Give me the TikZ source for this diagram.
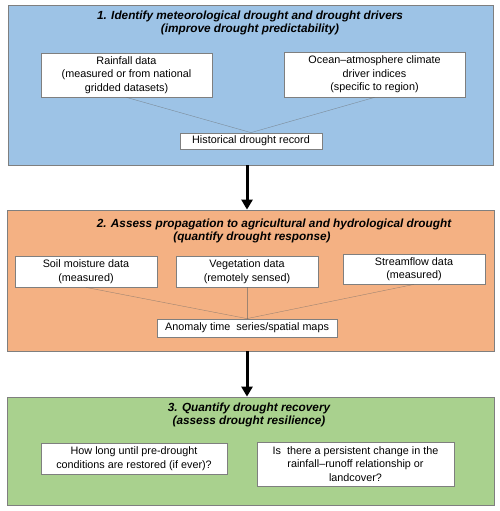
\documentclass[tikz,border=0pt]{standalone}
\usepackage{fontspec}
\setmainfont{Liberation Sans}
\usetikzlibrary{arrows.meta}
\definecolor{bluebg}{HTML}{9DC3E6}
\definecolor{orangebg}{HTML}{F4B183}
\definecolor{greenbg}{HTML}{A9D18E}
\definecolor{edgegray}{HTML}{7F7F7F}
\tikzset{
  panel/.style={draw=edgegray, line width=0.8pt, inner sep=0pt},
  item/.style={draw=edgegray, fill=white, line width=0.8pt, inner sep=0pt, align=center,
    font=\fontsize{10.8}{13.5}\selectfont},
  title/.style={inner sep=0pt, align=center, font=\fontsize{11.8}{13.5}\selectfont\bfseries\itshape},
  link/.style={draw=black!60, line width=0.4pt, opacity=0.6},
  flow/.style={line width=3pt, -{Triangle[width=11pt,length=10pt]}}
}
\begin{document}
\begin{tikzpicture}[x=1pt,y=-1pt]
\useasboundingbox (0,0) rectangle (500,511);
% panel 1
\node[panel, fill=bluebg, minimum width=485pt, minimum height=160pt] (p1) at (250.5,85) {};
\node[title] (t1) at (250,23) {1. Identify meteorological drought and drought drivers\\(improve drought predictability)};
\node[item, minimum width=171pt, minimum height=44pt] (rain) at (126.5,75) {Rainfall data\\(measured or from national\\gridded datasets)};
\node[item, minimum width=181pt, minimum height=45pt] (ocean) at (374.5,74.5) {Ocean–atmosphere climate\\driver indices\\(specific to region)};
\node[item, minimum width=142pt, minimum height=16pt] (hist) at (251,141) {Historical drought record};
\draw[link] (rain.south) -- (hist.north);
\draw[link] (ocean.south) -- (hist.north);
% panel 2
\node[panel, fill=orangebg, minimum width=487pt, minimum height=141pt] (p2) at (250.5,280.5) {};
\node[title] (t2a) at (274,224) {2. Assess propagation to agricultural and hydrological drought};
\node[title] (t2b) at (252,237.5) {(quantify drought response)};
\node[item, minimum width=142pt, minimum height=31pt] (soil) at (86,271.5) {Soil moisture data\\(measured)};
\node[item, minimum width=142pt, minimum height=31pt] (veg) at (247,271.5) {Vegetation data\\(remotely sensed)};
\node[item, minimum width=142pt, minimum height=30pt] (stream) at (414,269) {Streamflow data\\(measured)};
\node[item, minimum width=180pt, minimum height=18pt] (anom) at (247,328) {Anomaly time\ \ series/spatial maps};
\draw[link] (soil.south) -- (anom.north);
\draw[link] (veg.south) -- (anom.north);
\draw[link] (stream.south) -- (anom.north);
% panel 3
\node[panel, fill=greenbg, minimum width=487pt, minimum height=108pt] (p3) at (250.5,451) {};
\node[title] (t3) at (249,415) {3. Quantify drought recovery\\(assess drought resilience)};
\node[item, minimum width=186pt, minimum height=31pt] (how) at (134,458.5) {How long until pre-drought\\conditions are restored (if ever)?};
\node[item, minimum width=197pt, minimum height=44pt] (is) at (355.5,464) {Is\ \ there a persistent change in the\\rainfall–runoff relationship or\\landcover?};
% arrows
\draw[flow] (p1.south -| 247,0) -- (p2.north -| 247,0);
\draw[flow] (p2.south -| 247,0) -- (p3.north -| 247,0);
\end{tikzpicture}
\end{document}
